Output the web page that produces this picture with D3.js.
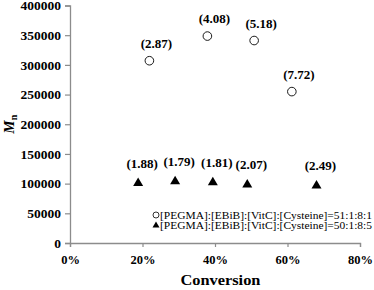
<!DOCTYPE html>
<html>
<head>
<meta charset="utf-8">
<script src="https://cdn.jsdelivr.net/npm/d3@7"></script>
<style>
  body { margin: 0; background: #fff; }
  svg text { font-family: "Liberation Serif", "Times New Roman", Times, serif !important; }
</style>
</head>
<body>
<div id="chart"></div>
<script>
// series 1: circles, 51:1:8:1
const convA = [0.219, 0.379, 0.508, 0.612];
const mnA = [307000, 348500, 341000, 255000];
const pdiA = ["(2.87)", "(4.08)", "(5.18)", "(7.72)"];
// series 2: triangles, 50:1:8:5
const convB = [0.188, 0.290, 0.394, 0.489, 0.680];
const mnB = [103000, 106000, 104500, 100500, 99000];
const pdiB = ["(1.88)", "(1.79)", "(1.81)", "(2.07)", "(2.49)"];

const legendLabels = ["[PEGMA]:[EBiB]:[VitC]:[Cysteine]=51:1:8:1", "[PEGMA]:[EBiB]:[VitC]:[Cysteine]=50:1:8:5"];
const yTicks = [0, 50000, 100000, 150000, 200000, 250000, 300000, 350000, 400000];
const xTicks = [0, 0.2, 0.4, 0.6, 0.8];

const serif = "'Liberation Serif', 'Times New Roman', serif";
const outerWidth = 374, outerHeight = 290;
const margin = {top: 5.5, right: 14, bottom: 47, left: 70};
const width = outerWidth - margin.left - margin.right, height = outerHeight - margin.top - margin.bottom;

const svg = d3.select("#chart").append("svg")
    .attr("width", outerWidth)
    .attr("height", outerHeight)
    .attr("font-family", serif)
    .append("g")
    .attr("transform", "translate(" + margin.left + "," + margin.top + ")");

const xScale = d3.scaleLinear().domain([0, 0.8]).range([0, width]);
const yScale = d3.scaleLinear().domain([0, 400000]).range([height, 0]);

const xAxis = d3.axisBottom(xScale).tickValues(xTicks).tickFormat(d3.format(".0%")).tickSize(4).tickPadding(8);
const yAxis = d3.axisLeft(yScale).tickValues(yTicks).tickFormat(d => d).tickSize(5).tickPadding(4);

const xaxis = svg.append("g").attr("transform", `translate(0, ${height})`).call(xAxis);
const yaxis = svg.append("g").call(yAxis);

[xaxis, yaxis].forEach(a => {
    a.attr("font-family", serif);
    a.select(".domain").attr("stroke", "#8c8c8c").attr("stroke-width", 1.3);
    a.selectAll(".tick line").attr("stroke", "#8c8c8c").attr("stroke-width", 1.2);
    a.selectAll(".tick text")
        .attr("fill", "#000")
        .attr("font-weight", "bold");
});
xaxis.selectAll(".tick text").attr("font-size", 12.5);
yaxis.selectAll(".tick text").attr("font-size", 13.5);

// axis titles
svg.append("text")
    .attr("x", xScale(0.415))
    .attr("y", height + 42)
    .attr("text-anchor", "middle")
    .attr("font-size", 15)
    .attr("font-weight", "bold")
    .attr("textLength", 80)
    .attr("lengthAdjust", "spacingAndGlyphs")
    .text("Conversion");

const yt = svg.append("text")
    .attr("transform", `translate(${-56}, ${yScale(200000)}) rotate(-90)`)
    .attr("text-anchor", "middle")
    .attr("font-size", 15)
    .attr("font-weight", "bold")
    .attr("font-style", "italic");
yt.append("tspan").text("M");
yt.append("tspan").attr("font-size", 10).attr("dy", 3).attr("font-style", "normal").text("n");

// triangle centred on its bounding box, like the spreadsheet markers
function tri(s) {
    const h = s * 0.85;
    return `M0,${-h / 2}L${s / 2},${h / 2}L${-s / 2},${h / 2}Z`;
}

const dataA = convA.map((c, i) => ({c, m: mnA[i], p: pdiA[i]}));
const dataB = convB.map((c, i) => ({c, m: mnB[i], p: pdiB[i]}));

svg.selectAll(".ptA")
    .data(dataA)
    .enter().append("circle")
    .attr("class", "ptA")
    .attr("cx", d => xScale(d.c))
    .attr("cy", d => yScale(d.m))
    .attr("r", 4.3)
    .attr("fill", "#fff")
    .attr("stroke", "#000")
    .attr("stroke-width", 0.9);

svg.selectAll(".ptB")
    .data(dataB)
    .enter().append("path")
    .attr("class", "ptB")
    .attr("transform", d => `translate(${xScale(d.c)},${yScale(d.m)})`)
    .attr("d", tri(10))
    .attr("fill", "#000");

svg.selectAll(".lblA")
    .data(dataA)
    .enter().append("text")
    .attr("class", "lblA")
    .attr("x", d => xScale(d.c) + 7)
    .attr("y", d => yScale(d.m) - 13)
    .attr("text-anchor", "middle")
    .attr("font-size", 13)
    .attr("font-weight", "bold")
    .text(d => d.p);

svg.selectAll(".lblB")
    .data(dataB)
    .enter().append("text")
    .attr("class", "lblB")
    .attr("x", d => xScale(d.c) + 4)
    .attr("y", d => yScale(d.m) - 14)
    .attr("text-anchor", "middle")
    .attr("font-size", 13)
    .attr("font-weight", "bold")
    .text(d => d.p);

// legend
const legend = svg.append("g").attr("transform", `translate(${156 - margin.left}, ${215 - margin.top})`);
legend.append("circle").attr("cx", 0).attr("cy", 0).attr("r", 3)
    .attr("fill", "#fff").attr("stroke", "#000").attr("stroke-width", 0.8);
legend.append("path").attr("transform", "translate(0, 9.5)").attr("d", tri(7)).attr("fill", "#000");
legend.selectAll(".leg")
    .data(legendLabels)
    .enter().append("text")
    .attr("class", "leg")
    .attr("x", 4)
    .attr("y", (d, i) => i * 9.5 + 4)
    .attr("font-size", 11)
    .attr("textLength", 212)
    .attr("lengthAdjust", "spacingAndGlyphs")
    .text(d => d);
</script>
</body>
</html>
